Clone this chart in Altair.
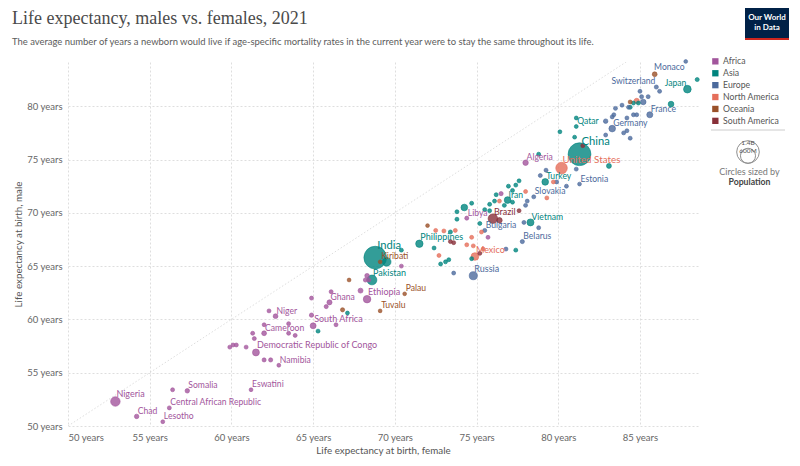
import altair as alt
import pandas as pd

# Region palette
regions = ["Africa", "Asia", "Europe", "North America", "Oceania", "South America"]
region_colors = ["#a2559c", "#00847e", "#4c6a9c", "#e56e5a", "#9a5129", "#883039"]

# Africa (life expectancy female / male in years, population in millions)
africa_names = ["Nigeria", "Chad", "Lesotho", "Central African Republic", "", "Somalia", "Eswatini",
                "Namibia", "", "", "Democratic Republic of Congo", "", "", "", "", "Cameroon", "", "",
                "", "", "", "", "Niger", "", "South Africa", "", "", "", "Ghana", "", "", "",
                "Ethiopia", "", "", "", "", "Libya", "", "Algeria", ""]
africa_female = [52.9, 54.2, 55.8, 56.2, 56.4, 57.3, 61.2, 62.9, 62.0, 62.4, 61.5, 59.9, 60.1, 60.3,
                 60.9, 62.0, 61.3, 61.4, 63.5, 63.9, 63.5, 62.0, 62.7, 62.3, 65.0, 64.9, 64.9, 66.4,
                 66.0, 65.8, 66.1, 67.9, 68.3, 68.3, 68.2, 68.4, 70.4, 74.4, 76.5, 78.0, 75.7]
africa_male = [52.3, 50.9, 50.4, 51.7, 53.4, 53.3, 53.4, 55.7, 56.2, 56.2, 56.9, 57.4, 57.6, 57.6,
               57.4, 58.7, 58.7, 58.2, 58.7, 58.5, 59.6, 59.5, 60.3, 60.8, 59.4, 60.4, 62.0, 59.5,
               61.6, 61.2, 62.6, 62.7, 61.9, 64.1, 63.7, 63.7, 65.0, 69.5, 71.8, 74.7, 67.7]
africa_pop = [213, 17, 2.3, 5.5, 5, 17, 1.2, 2.5, 8, 10, 96, 5, 5, 5, 5, 27, 5, 5, 5, 5, 5, 3, 25, 5,
              60, 13, 5, 5, 33, 8, 5, 30, 120, 20, 10, 10, 5, 7, 10, 44, 5]

# Asia
asia_names = ["India", "China", "Pakistan", "", "", "Philippines", "", "", "", "", "", "", "", "",
              "", "", "", "", "", "", "", "", "Iran", "", "", "", "", "", "", "Vietnam", "",
              "Turkey", "", "Qatar", "", "", "", "", "Japan", "", "", "", "", "", "", ""]
asia_female = [68.8, 81.3, 68.6, 69.5, 70.4, 71.5, 67.1, 65.3, 72.4, 73.1, 73.3, 72.8, 73.4, 74.25,
               74.7, 73.8, 73.8, 75.2, 75.5, 75.8, 76.1, 76.2, 76.9, 77.2, 76.7, 77.6, 77.4, 76.95,
               77.2, 78.3, 77.4, 79.2, 78.8, 81.1, 81.1, 81.0, 80.1, 83.1, 87.9, 88.5, 86.9, 84.9,
               84.6, 84.4, 74.7, 75.8]
asia_male = [65.8, 75.5, 63.7, 65.4, 66.5, 67.1, 60.6, 58.9, 66.7, 65.4, 65.6, 65.2, 68.2, 70.5,
             70.9, 70.1, 69.4, 69.0, 70.3, 70.8, 71.1, 71.7, 71.2, 71.0, 70.7, 73.0, 72.6, 72.5,
             72.1, 69.1, 66.5, 72.9, 75.5, 78.1, 78.9, 77.1, 77.6, 74.4, 81.6, 82.5, 80.2, 80.3,
             80.3, 79.9, 65.7, 70.2]
asia_pop = [1408, 1425, 231, 170, 5, 114, 3, 5, 5, 5, 5, 5, 8, 85, 5, 5, 5, 5, 5, 5, 5, 5, 88, 5, 5,
            5, 5, 5, 5, 98, 5, 85, 5, 2.7, 3, 3, 3, 30, 125, 7, 52, 5, 5, 5, 5, 5]

# Europe
europe_names = ["Monaco", "Switzerland", "", "", "", "", "", "France", "", "", "", "", "", "",
                "Germany", "", "", "", "", "", "", "", "", "Estonia", "", "", "", "", "Slovakia", "",
                "", "Bulgaria", "", "", "Belarus", "", "Russia", ""]
europe_female = [87.8, 86.0, 86.2, 85.0, 85.5, 85.1, 85.2, 85.6, 84.6, 84.8, 84.2, 83.4, 83.3, 82.9,
                 83.3, 84.2, 84.0, 84.4, 82.9, 83.5, 83.9, 84.3, 81.1, 81.3, 80.5, 79.9, 79.25, 78.9,
                 78.5, 78.1, 78.0, 75.5, 77.9, 78.8, 77.8, 76.8, 74.8, 73.6]
europe_male = [84.2, 81.8, 81.4, 81.4, 80.9, 80.9, 80.4, 79.2, 79.2, 79.2, 78.9, 79.2, 79.0, 78.6,
               77.9, 77.7, 77.5, 77.0, 77.3, 79.8, 80.1, 79.9, 74.1, 72.7, 72.5, 72.9, 74.0, 73.5,
               71.5, 71.1, 70.7, 68.35, 69.1, 68.6, 67.3, 66.6, 64.1, 64.35]
europe_pop = [0.04, 8.7, 5, 5, 5, 5, 48, 64, 5, 5, 5, 5, 5, 18, 83, 5, 5, 5, 5, 5, 5, 5, 5, 1.3, 5,
              5, 5, 5, 5.4, 5, 5, 6.9, 5, 5, 9.3, 5, 145, 4]

# North America
namerica_names = ["United States", "Mexico", "", "", "", "", "", "", "", "", "", "", "", "", "", ""]
namerica_female = [80.2, 74.9, 84.8, 79.7, 78.0, 76.4, 75.3, 74.7, 74.4, 74.8, 75.4, 72.5, 73.0,
                   73.7, 72.7, 79.3]
namerica_male = [74.2, 65.9, 80.5, 72.9, 72.0, 71.1, 68.2, 67.7, 67.0, 66.9, 66.6, 68.35, 68.3,
                 68.35, 66.0, 71.4]
namerica_pop = [335, 127, 38, 5, 5, 5, 5, 5, 5, 5, 5, 5, 5, 5, 5, 5]

# Oceania
oceania_names = ["", "", "Kiribati", "Palau", "Tuvalu", "", "", ""]
oceania_female = [85.9, 84.4, 69.1, 70.6, 69.1, 67.2, 72.0, 66.8]
oceania_male = [83.0, 80.4, 65.4, 62.4, 60.8, 63.7, 68.8, 60.9]
oceania_pop = [26, 5, 0.13, 0.02, 0.01, 1, 1, 10]

# South America
samerica_names = ["Brazil", "", "", "", "", "", ""]
samerica_female = [76.0, 76.4, 77.6, 81.5, 75.2, 73.4, 73.6]
samerica_male = [69.45, 69.3, 70.2, 76.3, 66.2, 67.3, 67.2]
samerica_pop = [214, 45, 5, 5, 5, 5, 5]

x_ticks = [50, 55, 60, 65, 70, 75, 80, 85]
y_ticks = [50, 55, 60, 65, 70, 75, 80]
key_pop = [1400, 600]
key_labels = ["1.4B", "600M"]

title_text = "Life expectancy, males vs. females, 2021"
subtitle_text = ("The average number of years a newborn would live if age-specific mortality rates "
                 "in the current year were to stay the same throughout its life.")


def region_frame(region, names, female, male, pop):
    return pd.DataFrame({"country": names, "region": region,
                         "female": female, "male": male, "pop": pop})


df = pd.concat([
    region_frame("Africa", africa_names, africa_female, africa_male, africa_pop),
    region_frame("Asia", asia_names, asia_female, asia_male, asia_pop),
    region_frame("Europe", europe_names, europe_female, europe_male, europe_pop),
    region_frame("North America", namerica_names, namerica_female, namerica_male, namerica_pop),
    region_frame("Oceania", oceania_names, oceania_female, oceania_male, oceania_pop),
    region_frame("South America", samerica_names, samerica_female, samerica_male, samerica_pop),
], ignore_index=True)

diag = pd.DataFrame({"female": [50, 90], "male": [50, 90]})
one = pd.DataFrame({"a": [0]})

x_scale = alt.Scale(domain=[50, 88.55], nice=False, zero=False)
y_scale = alt.Scale(domain=[50, 84.15], nice=False, zero=False)
size_scale = alt.Scale(domain=[0, 1425], range=[14, 520])
color_scale = alt.Scale(domain=regions, range=region_colors)

legend = alt.Legend(title=None, orient="none", legendX=643, legendY=-5, symbolType="square",
                    symbolSize=40, symbolStrokeWidth=0, symbolOpacity=1, labelFontSize=8.7,
                    labelColor="#555", rowPadding=1.9, padding=0, labelOffset=3.4,
                    labelLimit=300)
color_enc = alt.Color("region:N", scale=color_scale, legend=legend)

x_enc = alt.X("female:Q", scale=x_scale, axis=alt.Axis(
    values=x_ticks, labelExpr="datum.value + ' years'", title="Life expectancy at birth, female",
    labelPadding=6, titleY=19))
y_enc = alt.Y("male:Q", scale=y_scale, axis=alt.Axis(
    values=y_ticks, labelExpr="datum.value + ' years'", title="Life expectancy at birth, male",
    labelPadding=6, titleX=-45))

diagonal = alt.Chart(diag).mark_line(clip=True, color="#cfcfcf", strokeWidth=0.7,
                                     strokeDash=[1.5, 2]).encode(x=x_enc, y=y_enc)

base = alt.Chart(df).encode(x=x_enc, y=y_enc, color=color_enc)

points = base.mark_circle(fillOpacity=0.8, strokeWidth=0.6, strokeOpacity=1).encode(
    size=alt.Size("pop:Q", scale=size_scale, legend=None),
    stroke=alt.Stroke("region:N", scale=color_scale, legend=None),
    order=alt.Order("pop:Q", sort="descending"),
    tooltip=["country", "region", "female", "male"],
)


def labels(names, size, dx=1, dy=0, align="left", baseline="bottom"):
    return base.transform_filter(
        alt.FieldOneOfPredicate(field="country", oneOf=names)
    ).mark_text(align=align, baseline=baseline, dx=dx, dy=dy, fontSize=size).encode(
        text="country:N")


big = ["China", "India"]
mid = ["Pakistan", "Nigeria", "Brazil", "Mexico", "Russia", "Ethiopia", "Philippines",
       "South Africa", "Democratic Republic of Congo"]
special = big + mid + ["United States", "Switzerland", "Japan", "Monaco"]
plain = [n for n in df["country"] if n and n not in special]

label_layers = [
    labels(plain, 8.6, dy=-0.5),
    labels(mid, 9, dy=-2),
    labels(["United States"], 9.8, dy=-3),
    labels(big, 11.2, dx=2, dy=-7),
    labels(["Switzerland", "Japan"], 8.6, dx=-1, dy=-1, align="right"),
    labels(["Monaco"], 8.6, dx=-1, dy=2, align="right", baseline="top"),
]

# title and subtitle, left aligned with the page edge
title = alt.Chart(one).mark_text(align="left", baseline="alphabetic", font="Liberation Serif",
                                 fontSize=18, color="#4a4a4a").encode(
    x=alt.value(-56), y=alt.value(-38), text=alt.value(title_text))
subtitle = alt.Chart(one).mark_text(align="left", baseline="alphabetic", fontSize=9.45,
                                    color="#5b5b5b").encode(
    x=alt.value(-56), y=alt.value(-17.5), text=alt.value(subtitle_text))

# separator under the legend and the population key
separator = alt.Chart(one).mark_rule(color="#ccc", strokeWidth=1).encode(
    x=alt.value(643), x2=alt.value(717), y=alt.value(68))

key_df = pd.DataFrame({"pop": key_pop, "label": key_labels})
key_circles = [
    alt.Chart(key_df.iloc[[i]]).mark_point(shape="circle", filled=False, color="#8f8f8f",
                                            strokeWidth=1, opacity=1).encode(
        x=alt.value(680), y=alt.value(yy),
        size=alt.Size("pop:Q", scale=size_scale, legend=None))
    for i, yy in [(0, 90), (1, 93.8)]
]
key_texts = [
    alt.Chart(key_df.iloc[[i]]).mark_text(fontSize=6.5, color="#555").encode(
        x=alt.value(680), y=alt.value(yy), text="label:N")
    for i, yy in [(0, 80.5), (1, 89)]
]
key_caption = alt.Chart(one).mark_text(fontSize=9, color="#777").encode(
    x=alt.value(681.5), y=alt.value(109.5), text=alt.value("Circles sized by"))
key_title = alt.Chart(one).mark_text(fontSize=8.7, fontWeight="bold", color="#444").encode(
    x=alt.value(681.5), y=alt.value(119.5), text=alt.value("Population"))

# Our World in Data logo
logo_box = alt.Chart(one).mark_rect(color="#002147").encode(
    x=alt.value(677), x2=alt.value(721), y=alt.value(-54), y2=alt.value(-22))
logo_bar = alt.Chart(one).mark_rect(color="#ce261e").encode(
    x=alt.value(677), x2=alt.value(721), y=alt.value(-24), y2=alt.value(-22))
logo_top = alt.Chart(one).mark_text(fontSize=8, color="white", fontWeight="bold").encode(
    x=alt.value(699), y=alt.value(-44), text=alt.value("Our World"))
logo_bottom = alt.Chart(one).mark_text(fontSize=8, color="white", fontWeight="bold").encode(
    x=alt.value(699), y=alt.value(-34), text=alt.value("in Data"))

chart = alt.layer(
    diagonal, points, *label_layers, title, subtitle, separator, *key_circles, *key_texts,
    key_caption, key_title, logo_box, logo_bar, logo_top, logo_bottom
).properties(
    width=630,
    height=364,
    autosize="none",
    padding={"left": 60, "top": 54, "right": 94, "bottom": 32},
).configure(
    font="Lato"
).configure_view(
    stroke=None
).configure_axis(
    grid=True, gridColor="#dedede", gridDash=[2, 2], domain=False, ticks=False,
    labelFont="Lato", labelFontSize=9.5, labelColor="#666",
    titleFont="Lato", titleFontSize=9.8, titleColor="#555", titleFontWeight="normal"
).configure_text(font="Lato")

chart.save("out.html", embed_options={"renderer": "svg", "actions": False})
